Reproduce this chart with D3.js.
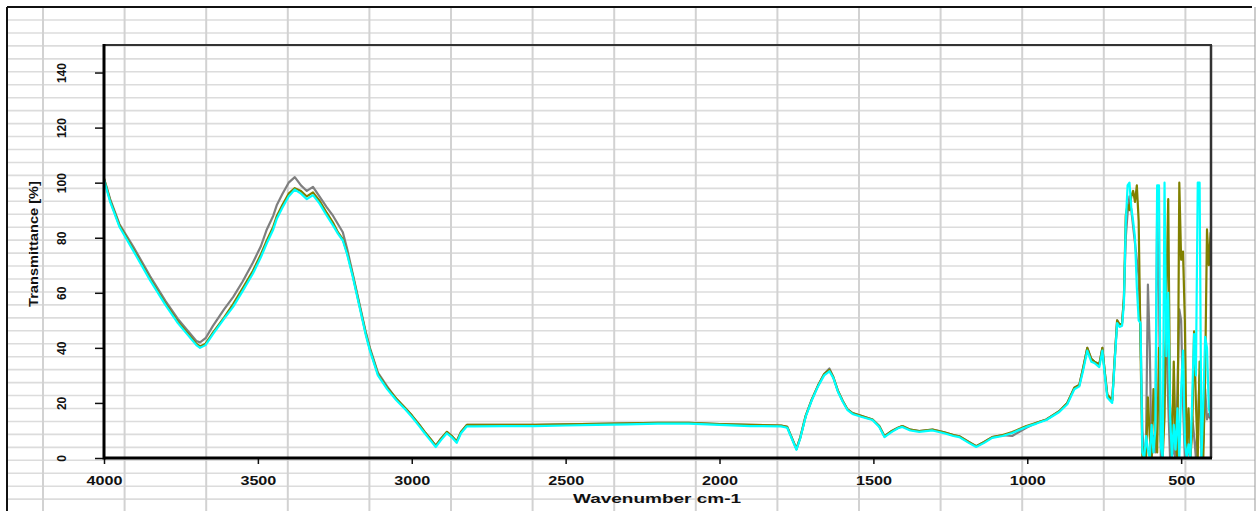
<!DOCTYPE html>
<html>
<head>
<meta charset="utf-8">
<script src="https://cdn.jsdelivr.net/npm/d3@7"></script>
<style>
  body { margin: 0; background: #fff; }
  svg { display: block; }
</style>
</head>
<body>
<script>
// sheet size
const W = 1256, H = 511;

// wavenumbers shared by the smooth part of the spectra
const smoothWn = [4000,3980,3950,3906,3850,3800,3760,3730,3700,3688,
  3670,3646,3610,3580,3550,3516,3490,3471,3450,3438,
  3420,3400,3380,3360,3341,3321,3300,3276,3256,3240,
  3224,3210,3192,3170,3150,3136,3110,3080,3050,3020,
  3000,2975,2958,2940,2922,2905,2886,2870,2854,2840,
  2821,2800,2700,2600,2500,2400,2300,2200,2100,2000,
  1900,1800,1780,1765,1750,1738,1720,1700,1680,1660,
  1643,1630,1615,1600,1585,1568,1540,1503,1481,1464,
  1440,1420,1406,1380,1351,1308,1270,1240,1221,1190,
  1166,1140,1114,1080,1049,1003,970,938,896,870,
  847,831,818,805,792,782,766,756,748,740,
  724,717,708,700,692,686];

const cyanSmooth = [101,93,84,75.5,64.5,55.5,49,45,41,40,
  41,45,50.5,55,60.5,67,73,78,83,87,
  91,95,97.5,96,94,95.5,92.5,88,84.5,81.5,
  79,74,66,55,45,39,30,25,21,17.5,
  15,11.5,9,6.5,4,6.5,9,7.5,5.5,9,
  11.5,11.5,11.6,11.6,11.8,12,12.2,12.5,12.5,12,
  11.6,11.5,11,7,3,7,15,21,26,30,
  31.5,29,24,20.5,17.5,16,15,13.8,11.3,7.6,
  9.5,10.8,11.3,10,9.5,10,9,8,7.6,5.5,
  4,5.5,7.3,8,9.1,11.3,12.5,13.8,16.7,19.5,
  25,26,32,39,35,34.5,33,39,30,22,
  20,33,49,47.6,48,56];

const oliveSmooth = [101.5,93.5,84.5,76,65,56,49.5,45.5,41.5,40.5,
  41.5,45.5,51,56,61.5,68,74,79,84,88,
  92,96,98,97,95,96.5,93.5,89,85.5,82,
  79.5,74.5,66.5,55.5,45.5,39.5,30.5,25.5,21.5,18,
  15.5,12,9.5,7,4.5,7,9.5,8,6,9.5,
  12,12,12,12,12.2,12.4,12.6,12.8,12.8,12.3,
  12,11.8,11.3,7.3,3.3,7.3,15.3,21.3,26.3,30.5,
  32,29.3,24.3,20.8,17.8,16.3,15.3,14,11.6,7.9,
  9.8,11,11.6,10.3,9.8,10.3,9.3,8.3,7.9,5.8,
  4.3,5.8,7.6,8.3,9.4,11.6,12.8,14,17,20,
  25.5,26.5,33,40,36,35,34,40,31,23,
  21,34,50,48.5,49,58];

const graySmooth = [101.5,94,85,77,66,57,50.5,46.5,42.5,42,
  43.5,48,54,58.5,64,71,77,83,88,92,
  96,100,102,99,97,98.5,95,91,88,85,
  82,76,67,56,46,40,31,26,21.5,18,
  15.5,12,9.5,7,4.5,7,9.5,8,6,9.5,
  12,12,12,12,12.2,12.4,12.6,12.8,12.8,12.3,
  12,11.8,11.3,7.3,3.3,7.3,15.3,21.3,26.3,30.5,
  32.5,29.3,24.3,20.8,17.8,16.3,15.3,14,11.6,7.9,
  9.8,11,11.6,10.3,9.8,10.3,9.3,8.3,7.9,5.8,
  4.3,5.8,7.6,8.3,8,11,12.8,14,17,20,
  25.5,26.5,33,40,36,35,34,40,31,23,
  21,34,50,48.5,49,58];

// noisy low-wavenumber end
const noiseWn = [680,674,668,662,656,650,644,638,632,626,
  620,614,608,602,596,590,584,578,572,566,
  560,554,548,542,536,530,524,518,512,506,
  500,494,488,482,476,470,464,458,452,446,
  440,434,428,422,416,410,404];

const cyanNoise = [85,99,100,91,86,80,62,50,49,2,
  0,8,3,0,12,2,10,99,99,4,
  0,100,37,60,16,0,12,3,18,0,
  25,39,6,0,5,0,22,45,30,100,
  100,0,20,44,40,18,15];

const oliveNoise = [88,92,90,95,97,93,99,86,40,0,
  4,0,22,8,0,25,10,2,40,6,
  0,15,60,94,20,0,35,5,0,100,
  72,75,50,0,18,0,10,46,20,0,
  35,8,0,30,83,70,82];

const grayNoise = [80,89,95,90,84,78,72,66,46,10,
  0,6,63,40,0,8,2,89,60,0,
  3,30,45,20,0,10,2,0,25,54,
  50,20,0,8,2,0,15,8,0,12,
  30,0,6,25,14,16,14];

const xTicks = [4000, 3500, 3000, 2500, 2000, 1500, 1000, 500];
const yTicks = [0, 20, 40, 60, 80, 100, 120, 140];

const series = [
  {name: 'gray', color: '#7f7f7f', values: graySmooth.concat(grayNoise)},
  {name: 'olive', color: '#808000', values: oliveSmooth.concat(oliveNoise)},
  {name: 'cyan', color: '#00ffff', values: cyanSmooth.concat(cyanNoise)}
];
const allWn = smoothWn.concat(noiseWn);

const PLOT = {left: 104, right: 1211, top: 45, bottom: 458};
const FONT = 'Liberation Sans, Arial, sans-serif';

const svg = d3.select('body').append('svg')
  .attr('width', W)
  .attr('height', H);

// spreadsheet background grid
const rows = d3.range(20, H, 12.95);
const cols = d3.range(43, W - 5, 81.6);

svg.append('g').selectAll('line')
  .data(rows)
  .enter().append('line')
  .attr('x1', 7).attr('x2', 1255)
  .attr('y1', d => d).attr('y2', d => d)
  .attr('stroke', '#dcdcdc')
  .attr('stroke-width', 1.6);

svg.append('g').selectAll('line')
  .data(cols)
  .enter().append('line')
  .attr('x1', d => d).attr('x2', d => d)
  .attr('y1', 7).attr('y2', H)
  .attr('stroke', '#d2d2d2')
  .attr('stroke-width', 2);

// outer frame of the sheet
svg.append('line').attr('x1', 7).attr('x2', 1252).attr('y1', 7).attr('y2', 7)
  .attr('stroke', '#111').attr('stroke-width', 2);
svg.append('line').attr('x1', 7).attr('x2', 7).attr('y1', 7).attr('y2', H)
  .attr('stroke', '#111').attr('stroke-width', 2);
svg.append('line').attr('x1', 1255).attr('x2', 1255).attr('y1', 7).attr('y2', H)
  .attr('stroke', '#999').attr('stroke-width', 1);

// scales
const x = d3.scaleLinear().domain([4000, 403]).range([PLOT.left, PLOT.right]);
const y = d3.scaleLinear().domain([0, 150]).range([PLOT.bottom, PLOT.top]);

// spectra
svg.append('clipPath').attr('id', 'clip')
  .append('rect')
  .attr('x', PLOT.left).attr('y', PLOT.top)
  .attr('width', PLOT.right - PLOT.left)
  .attr('height', PLOT.bottom - PLOT.top);

const line = d3.line()
  .x((d, i) => x(allWn[i]))
  .y(d => y(d));

svg.append('g').attr('clip-path', 'url(#clip)')
  .selectAll('path')
  .data(series)
  .enter().append('path')
  .attr('d', d => line(d.values))
  .attr('fill', 'none')
  .attr('stroke', d => d.color)
  .attr('stroke-width', 2.2)
  .attr('stroke-linejoin', 'round');

// plot box
svg.append('line').attr('x1', PLOT.left).attr('x2', PLOT.right + 1)
  .attr('y1', PLOT.top).attr('y2', PLOT.top)
  .attr('stroke', '#333').attr('stroke-width', 2);
svg.append('line').attr('x1', PLOT.right).attr('x2', PLOT.right)
  .attr('y1', PLOT.top).attr('y2', PLOT.bottom)
  .attr('stroke', '#333').attr('stroke-width', 2.5);

// y axis
const yAxis = d3.axisLeft(y).tickValues(yTicks).tickSize(9).tickFormat(d3.format('d'));
const gy = svg.append('g')
  .attr('transform', 'translate(' + PLOT.left + ',0)')
  .call(yAxis);
gy.select('.domain').remove();
gy.selectAll('.tick line').attr('stroke', '#111').attr('stroke-width', 1.5);
gy.selectAll('.tick text')
  .attr('x', null).attr('dy', null)
  .attr('transform', 'translate(-42,0) rotate(-90)')
  .attr('text-anchor', 'middle')
  .attr('dominant-baseline', 'central')
  .style('font-family', FONT)
  .style('font-size', '12px')
  .style('font-weight', 'bold')
  .attr('fill', '#111');

// x axis
const xAxis = d3.axisBottom(x).tickValues(xTicks).tickSize(6).tickPadding(12).tickFormat(d3.format('d'));
const gx = svg.append('g')
  .attr('transform', 'translate(0,' + PLOT.bottom + ')')
  .call(xAxis);
gx.select('.domain').remove();
gx.selectAll('.tick line').attr('stroke', '#111').attr('stroke-width', 1.5);
gx.selectAll('.tick text')
  .style('font-family', FONT)
  .style('font-size', '12px')
  .style('font-weight', 'bold')
  .attr('textLength', d => d >= 1000 ? 36 : 27)
  .attr('lengthAdjust', 'spacingAndGlyphs')
  .attr('fill', '#111');

// thick axis lines
svg.append('line').attr('x1', PLOT.left).attr('x2', PLOT.left)
  .attr('y1', PLOT.top - 1).attr('y2', PLOT.bottom + 1.5)
  .attr('stroke', '#000').attr('stroke-width', 3);
svg.append('line').attr('x1', PLOT.left).attr('x2', PLOT.right + 1)
  .attr('y1', PLOT.bottom).attr('y2', PLOT.bottom)
  .attr('stroke', '#000').attr('stroke-width', 3);

// axis titles
svg.append('text')
  .attr('x', 657).attr('y', 498)
  .attr('text-anchor', 'middle')
  .attr('dominant-baseline', 'central')
  .attr('textLength', 168)
  .attr('lengthAdjust', 'spacingAndGlyphs')
  .style('font-family', FONT)
  .style('font-size', '13px')
  .style('font-weight', 'bold')
  .attr('fill', '#111')
  .text('Wavenumber cm-1');

svg.append('text')
  .attr('transform', 'translate(33,244) rotate(-90)')
  .attr('text-anchor', 'middle')
  .attr('dominant-baseline', 'central')
  .attr('textLength', 126)
  .attr('lengthAdjust', 'spacingAndGlyphs')
  .style('font-family', FONT)
  .style('font-size', '13px')
  .style('font-weight', 'bold')
  .attr('fill', '#111')
  .text('Transmittance [%]');
</script>
</body>
</html>
